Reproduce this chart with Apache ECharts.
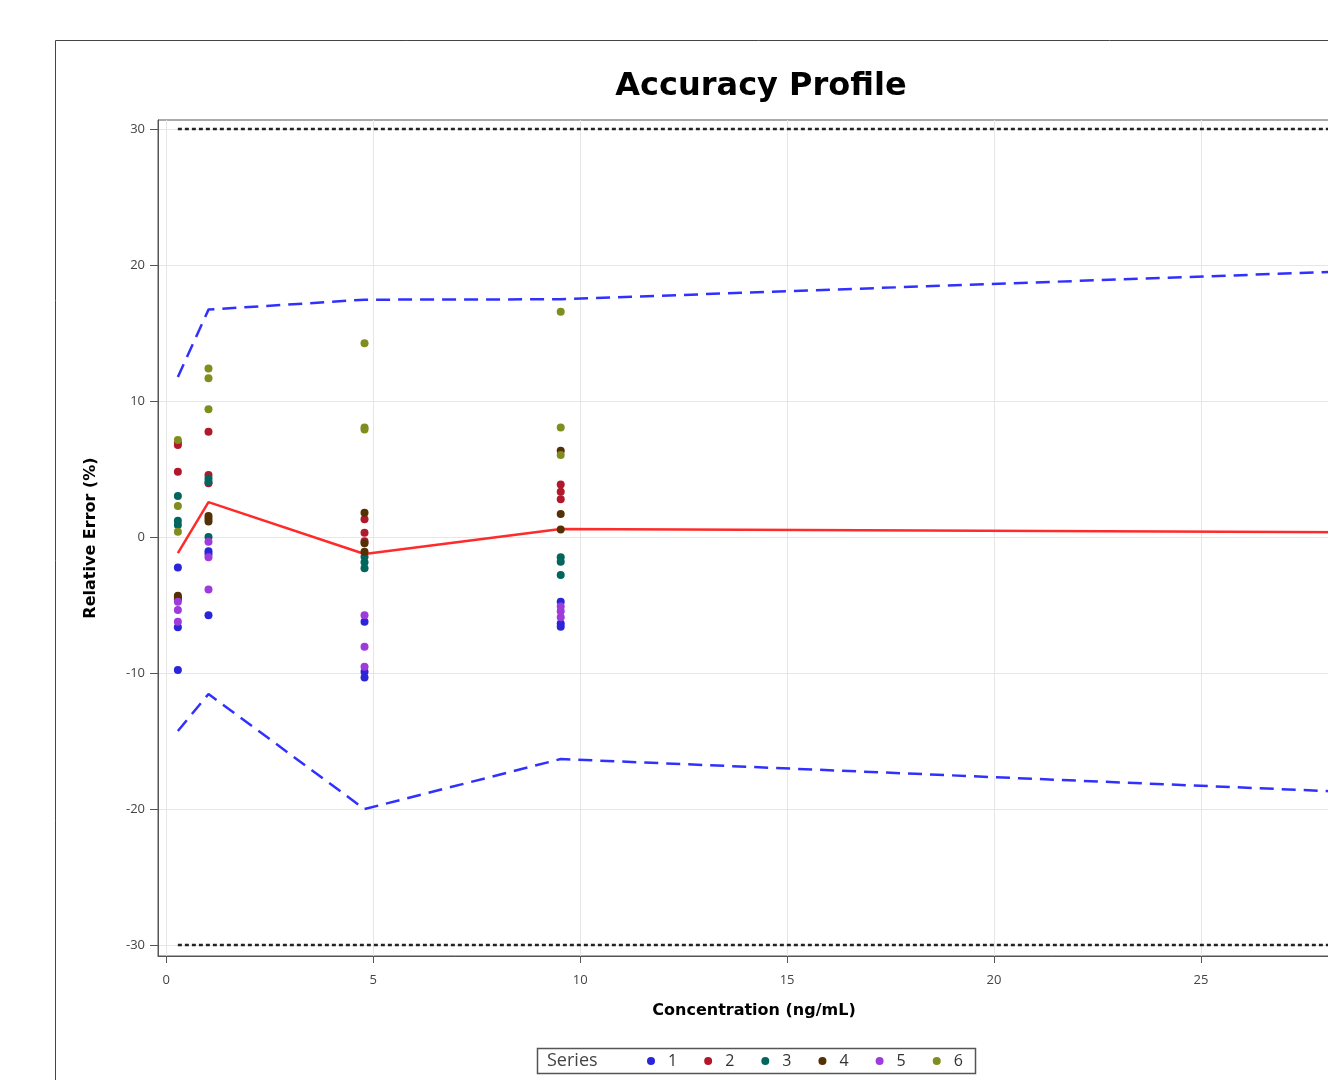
<!DOCTYPE html>
<html>
<head>
<meta charset="utf-8">
<script src="https://cdn.jsdelivr.net/npm/echarts@6/dist/echarts.min.js"></script>
<style>
  html, body { margin: 0; padding: 0; overflow: hidden; background: #fff; }
  #chart { width: 1460px; height: 1080px; }
</style>
</head>
<body>
<div id="chart"></div>
<script>
// concentration levels (ng/mL) where replicates were measured
const concentrations = [0.28, 1.02, 4.79, 9.53]
// x positions of the profile lines (last point runs off to the right)
const profileX = [0.28, 1.02, 4.79, 9.53, 28.5]
const upperTolerance = [11.76, 16.72, 17.45, 17.48, 19.53]
const lowerTolerance = [-14.26, -11.54, -20.0, -16.32, -18.73]
const meanBias = [-1.18, 2.57, -1.25, 0.59, 0.36]
const acceptanceLimit = 30

const seriesNames = ['1', '2', '3', '4', '5', '6']
// relative error (%) per series, 3 replicates per concentration level
const series1 = [[-2.23, -6.64, -9.78], [-1.05, -1.25, -5.74], [-6.23, -9.9, -10.32], [-4.75, -6.35, -6.6]]
const series2 = [[6.95, 6.76, 4.8], [7.74, 4.56, 3.95], [1.3, 0.32, -0.3], [3.87, 3.33, 2.77]]
const series3 = [[3.01, 1.2, 0.88], [4.31, 4.05, 0.0], [-1.45, -1.85, -2.3], [-1.49, -1.81, -2.79]]
const series4 = [[-4.31, -4.45, -4.6], [1.55, 1.35, 1.15], [1.79, -0.46, -1.08], [6.35, 1.69, 0.56]]
const series5 = [[-4.75, -5.37, -6.23], [-0.34, -1.49, -3.85], [-5.74, -8.06, -9.53], [-5.1, -5.45, -5.9]]
const series6 = [[7.13, 2.28, 0.39], [12.4, 11.67, 9.39], [14.24, 8.05, 7.9], [16.57, 8.06, 6.03]]
const allSeries = [series1, series2, series3, series4, series5, series6]

const xTicks = [0, 5, 10, 15, 20, 25]
const yTicks = [-30, -20, -10, 0, 10, 20, 30]

const colors = ['#2A25D9', '#B2182B', '#01665E', '#543005', '#9D3CDB', '#7F8E1F']
const font = '"Open Sans", sans-serif'
const boldFont = '"DejaVu Sans", sans-serif'

const chart = echarts.init(document.getElementById('chart'))

const toPoints = (values) => {
  const pts = []
  values.forEach((reps, i) => reps.forEach(v => pts.push([concentrations[i], v])))
  return pts
}
const toLine = (ys) => ys.map((y, i) => [profileX[i], y])

const scatterSeries = allSeries.map((vals, i) => ({
  name: seriesNames[i],
  type: 'scatter',
  symbol: 'circle',
  symbolSize: 8,
  itemStyle: { color: colors[i], opacity: 1 },
  z: 4,
  data: toPoints(vals)
}))

const first = profileX[0]
const last = profileX[profileX.length - 1]

const option = {
  animation: false,
  backgroundColor: '#fff',
  title: {
    text: 'Accuracy Profile',
    left: 756,
    textAlign: 'center',
    top: 66,
    textStyle: { fontSize: 32, fontWeight: 'bold', color: '#000', fontFamily: boldFont }
  },
  graphic: [
    { type: 'rect', shape: { x: 55.5, y: 40.5, width: 1500, height: 1200 }, style: { fill: 'none', stroke: '#444', lineWidth: 1 }, silent: true },
    { type: 'rect', shape: { x: 537.5, y: 1048.5, width: 438, height: 25 }, style: { fill: '#fff', stroke: '#555', lineWidth: 1.5 }, silent: true, z: 0 },
    { type: 'text', x: 547, y: 1061, style: { text: 'Series', fill: '#444', font: '18px ' + font, verticalAlign: 'middle' }, silent: true, z: 10 }
  ],
  legend: {
    data: seriesNames,
    left: 647,
    top: 1053,
    padding: 0,
    itemWidth: 24,
    itemHeight: 8,
    itemGap: 27,
    icon: 'circle',
    selectedMode: false,
    textStyle: { fontSize: 16, color: '#333', fontFamily: font },
    z: 10
  },
  grid: {
    left: 158,
    top: 120,
    width: 1192,
    height: 836,
    show: true,
    borderColor: '#555',
    borderWidth: 1,
    backgroundColor: 'transparent'
  },
  xAxis: {
    type: 'value',
    min: -0.2,
    max: 28.6,
    name: 'Concentration (ng/mL)',
    nameLocation: 'middle',
    nameGap: 47,
    nameTextStyle: { fontSize: 16, fontWeight: 'bold', color: '#000', fontFamily: boldFont },
    axisLine: { show: true, onZero: false, lineStyle: { color: '#555', width: 1 } },
    axisTick: { show: true, length: 7, customValues: xTicks, lineStyle: { color: '#555' } },
    axisLabel: { customValues: xTicks, margin: 18, fontSize: 13, color: '#444', fontFamily: font },
    splitLine: { show: true, lineStyle: { color: '#e6e6e6', width: 1 } }
  },
  yAxis: {
    type: 'value',
    min: -30.8,
    max: 30.66,
    name: 'Relative Error (%)',
    nameLocation: 'middle',
    nameGap: 59,
    nameTextStyle: { fontSize: 16, fontWeight: 'bold', color: '#000', fontFamily: boldFont },
    axisLine: { show: true, onZero: false, lineStyle: { color: '#555', width: 1 } },
    axisTick: { show: true, length: 8, customValues: yTicks, lineStyle: { color: '#555' } },
    axisLabel: { customValues: yTicks, margin: 13, fontSize: 13, color: '#444', fontFamily: font },
    splitLine: { show: true, lineStyle: { color: '#e6e6e6', width: 1 } }
  },
  series: [
    {
      name: 'upper',
      type: 'line',
      data: toLine(upperTolerance),
      symbol: 'none',
      lineStyle: { color: '#3030FF', width: 2.5, type: [14, 8] },
      z: 2
    },
    {
      name: 'lower',
      type: 'line',
      data: toLine(lowerTolerance),
      symbol: 'none',
      lineStyle: { color: '#3030FF', width: 2.5, type: [14, 8] },
      z: 2
    },
    {
      name: 'bias',
      type: 'line',
      data: toLine(meanBias),
      symbol: 'none',
      lineStyle: { color: '#FF2A2A', width: 2.5 },
      z: 2
    },
    {
      name: 'accUpper',
      type: 'line',
      data: [[first, acceptanceLimit], [last, acceptanceLimit]],
      symbol: 'none',
      lineStyle: { color: '#222', width: 2.5, type: [4, 3] },
      z: 2
    },
    {
      name: 'accLower',
      type: 'line',
      data: [[first, -acceptanceLimit], [last, -acceptanceLimit]],
      symbol: 'none',
      lineStyle: { color: '#222', width: 2.5, type: [4, 3] },
      z: 2
    },
    ...scatterSeries
  ]
}

chart.setOption(option)
</script>
</body>
</html>
